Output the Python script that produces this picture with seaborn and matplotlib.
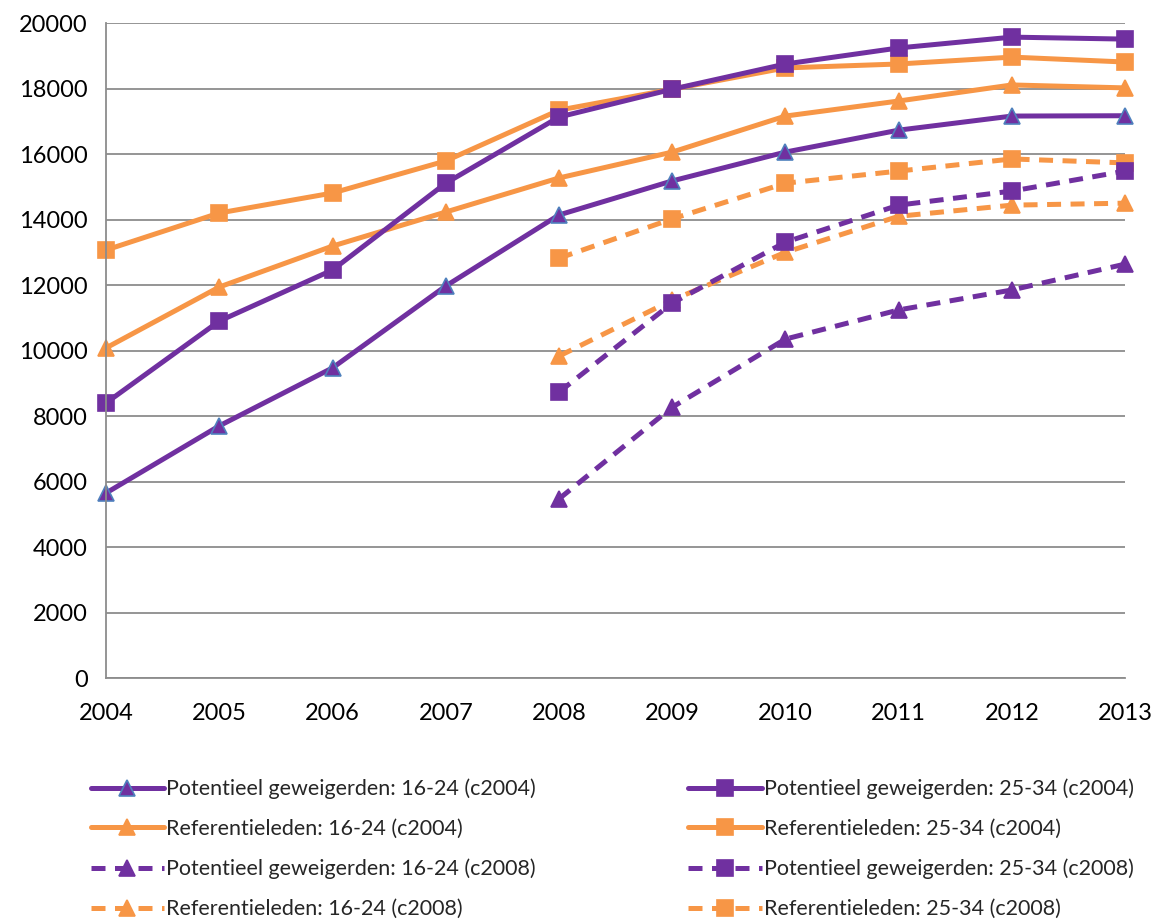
import matplotlib
matplotlib.use("Agg")
import matplotlib.pyplot as plt
import seaborn as sns
import pandas as pd

years = [2004, 2005, 2006, 2007, 2008, 2009, 2010, 2011, 2012, 2013]
years_2008 = [2008, 2009, 2010, 2011, 2012, 2013]

pot_16_24_c2004 = [5650, 7700, 9470, 11970, 14140, 15180, 16060, 16730, 17160, 17170]
pot_25_34_c2004 = [8400, 10900, 12460, 15110, 17130, 17980, 18750, 19240, 19570, 19510]
ref_16_24_c2004 = [10080, 11940, 13190, 14230, 15270, 16060, 17160, 17620, 18110, 18020]
ref_25_34_c2004 = [13070, 14200, 14810, 15790, 17340, 17980, 18630, 18750, 18960, 18810]

pot_16_24_c2008 = [5470, 8270, 10350, 11240, 11850, 12640]
pot_25_34_c2008 = [8730, 11450, 13310, 14440, 14870, 15480]
ref_16_24_c2008 = [9830, 11540, 13000, 14100, 14440, 14500]
ref_25_34_c2008 = [12820, 14020, 15110, 15480, 15850, 15730]

labels = [
    "Potentieel geweigerden: 16-24 (c2004)",
    "Potentieel geweigerden: 25-34 (c2004)",
    "Referentieleden: 16-24 (c2004)",
    "Referentieleden: 25-34 (c2004)",
    "Potentieel geweigerden: 16-24 (c2008)",
    "Potentieel geweigerden: 25-34 (c2008)",
    "Referentieleden: 16-24 (c2008)",
    "Referentieleden: 25-34 (c2008)",
]

PURPLE = "#7030A0"
ORANGE = "#F79646"
BLUE_EDGE = "#4F81BD"

sns.set_style("white")
plt.rcParams["font.family"] = ["Lato", "DejaVu Sans"]

fig = plt.figure(figsize=(11.54, 9.22), dpi=100)
ax = fig.add_axes([0.0919, 0.2646, 0.975 - 0.0919, 0.975 - 0.2646])

series = [
    (years, pot_16_24_c2004, labels[0], PURPLE, "^", "-", BLUE_EDGE),
    (years, pot_25_34_c2004, labels[1], PURPLE, "s", "-", PURPLE),
    (years, ref_16_24_c2004, labels[2], ORANGE, "^", "-", ORANGE),
    (years, ref_25_34_c2004, labels[3], ORANGE, "s", "-", ORANGE),
    (years_2008, pot_16_24_c2008, labels[4], PURPLE, "^", "--", PURPLE),
    (years_2008, pot_25_34_c2008, labels[5], PURPLE, "s", "--", PURPLE),
    (years_2008, ref_16_24_c2008, labels[6], ORANGE, "^", "--", ORANGE),
    (years_2008, ref_25_34_c2008, labels[7], ORANGE, "s", "--", ORANGE),
]

handles = {}
draw_order = [6, 7, 4, 5, 2, 0, 3, 1]
for i in draw_order:
    xs, ys, lab, col, mk, ls, ec = series[i]
    df = pd.DataFrame({"x": xs, "y": ys})
    kw = dict(color=col, marker=mk, markersize=12 if mk == "^" else 11,
              markeredgecolor=ec, markerfacecolor=col, markeredgewidth=1.2,
              linewidth=3.6, label=lab)
    if ls == "--":
        kw["dashes"] = (2.8, 1.9)
    sns.lineplot(data=df, x="x", y="y", ax=ax, legend=False, **kw)
    handles[i] = ax.get_lines()[-1]

ax.set_xlim(2004, 2013)
ax.set_ylim(0, 20000)
ax.set_yticks(range(0, 20001, 2000))
ax.set_xticks(years)
ax.set_xlabel("")
ax.set_ylabel("")
ax.yaxis.grid(True, color="#8C8C8C", linewidth=1.3)
ax.xaxis.grid(False)
ax.set_axisbelow(True)
for s in ["top", "right"]:
    ax.spines[s].set_visible(False)
for s in ["left", "bottom"]:
    ax.spines[s].set_visible(True)
    ax.spines[s].set_color("#8C8C8C")
    ax.spines[s].set_linewidth(1.3)
ax.tick_params(axis="both", which="both", direction="out", length=7,
               color="#8C8C8C", width=1.3, labelsize=17, labelcolor="black")
ax.tick_params(axis="x", pad=11)
ax.tick_params(axis="y", pad=6)
for sp in ax.spines.values():
    sp.set_clip_on(False)
for ln in ax.get_lines():
    ln.set_clip_on(False)

order = [0, 2, 4, 6, 1, 3, 5, 7]
leg = fig.legend([handles[i] for i in order], [labels[i] for i in order],
                 loc="upper left", bbox_to_anchor=(0.071, 0.165), ncol=2,
                 frameon=False, fontsize=15.5, handlelength=3.4,
                 handletextpad=0.1, columnspacing=7.1, labelspacing=0.92,
                 borderaxespad=0)

fig.savefig("out.png", dpi=100)
